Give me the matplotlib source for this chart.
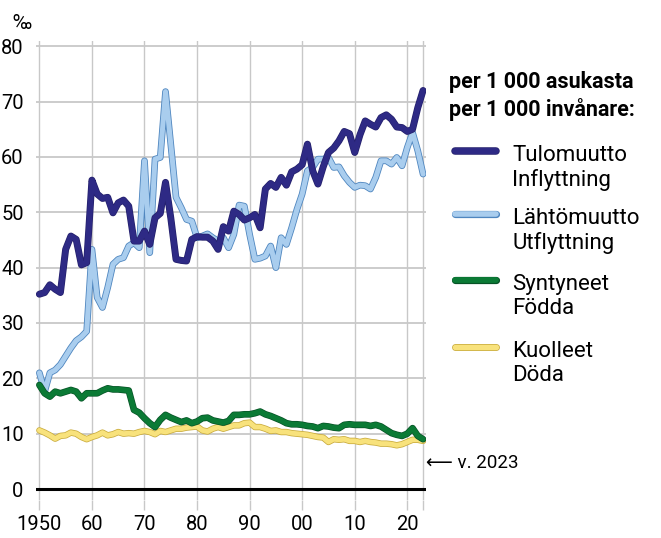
import numpy as np
import matplotlib
matplotlib.use("Agg")
from matplotlib import pyplot as plt
from matplotlib import patheffects as pe
from matplotlib.lines import Line2D

plt.rcParams['font.family'] = ['Roboto', 'DejaVu Sans']

years = list(range(1950, 2024))

# tulomuutto / inflyttning per 1000
tulo = [35.2, 35.5, 36.9, 36.1, 35.5, 43.3, 45.7, 45.1, 40.5, 40.9,
        55.8, 53.3, 52.5, 52.7, 49.9, 51.7, 52.2, 51.1, 44.8, 44.8,
        46.6, 44.2, 49.0, 49.8, 55.4, 49.0, 41.5, 41.3, 41.2, 45.1,
        45.6, 45.5, 45.5, 44.8, 43.3, 47.4, 46.6, 50.2, 49.6, 48.6,
        49.0, 49.6, 47.2, 54.2, 55.2, 54.5, 56.3, 54.9, 57.3, 57.8,
        58.6, 62.3, 57.5, 55.1, 58.2, 60.8, 61.6, 62.9, 64.6, 64.2,
        60.8, 64.0, 66.5, 65.9, 65.4, 67.1, 67.6, 66.8, 65.4, 65.3,
        64.6, 65.0, 68.9, 72.0]

# lähtömuutto / utflyttning
lahto = [21.0, 17.6, 21.0, 21.5, 22.5, 24.0, 25.5, 26.8, 27.5, 28.5,
         43.3, 34.6, 32.8, 36.4, 40.6, 41.5, 41.8, 43.9, 44.5, 43.6,
         59.3, 42.7, 59.6, 59.9, 71.8, 62.3, 52.7, 50.8, 48.7, 48.4,
         45.4, 45.7, 46.1, 45.4, 44.8, 45.4, 43.6, 46.0, 51.3, 51.1,
         46.0, 41.5, 41.7, 42.1, 43.9, 40.0, 45.4, 44.2, 47.2, 50.5,
         53.3, 57.5, 58.1, 59.6, 59.6, 59.9, 58.1, 58.2, 56.6, 55.4,
         54.5, 54.9, 54.8, 54.2, 56.3, 59.3, 59.3, 58.7, 59.9, 58.4,
         61.7, 64.4, 61.1, 56.9]

# syntyneet / födda
synt = [18.8, 17.3, 16.7, 17.6, 17.3, 17.6, 17.9, 17.6, 16.4, 17.3,
        17.3, 17.3, 17.8, 18.2, 18.0, 18.0, 17.9, 17.8, 14.3, 13.8,
        12.8, 11.9, 11.2, 12.5, 13.4, 12.9, 12.5, 12.1, 12.4, 11.9,
        12.2, 12.8, 12.9, 12.4, 12.2, 12.0, 12.3, 13.4, 13.4, 13.5,
        13.5, 13.7, 14.0, 13.5, 13.2, 12.8, 12.4, 11.9, 11.7, 11.7,
        11.6, 11.4, 11.3, 11.0, 11.4, 11.3, 11.1, 11.0, 11.6, 11.7,
        11.6, 11.6, 11.6, 11.4, 11.6, 11.3, 10.7, 10.1, 9.8, 9.6,
        10.0, 11.0, 9.6, 9.0]

# kuolleet / döda
kuol = [10.6, 10.2, 9.7, 9.1, 9.6, 9.7, 10.2, 10.0, 9.4, 9.0,
        9.4, 9.7, 10.2, 9.7, 9.9, 10.3, 10.0, 10.1, 10.0, 10.3,
        10.5, 10.3, 9.9, 10.5, 10.3, 10.6, 10.9, 10.9, 11.1, 11.2,
        11.3, 10.6, 10.4, 10.9, 11.2, 10.9, 11.2, 11.5, 11.5, 11.9,
        12.0, 11.2, 11.2, 10.9, 10.5, 10.6, 10.3, 10.3, 10.1, 10.0,
        9.9, 9.8, 9.6, 9.4, 9.3, 8.5, 9.0, 8.9, 9.0, 8.7,
        8.7, 8.5, 8.7, 8.5, 8.4, 8.2, 8.2, 8.1, 7.9, 8.1,
        8.5, 8.9, 8.9, 8.7]

xticks = [1950, 1960, 1970, 1980, 1990, 2000, 2010, 2020]
xlabels = ['1950', '60', '70', '80', '90', '00', '10', '20']
yticks = [0, 10, 20, 30, 40, 50, 60, 70, 80]

labels = ['Tulomuutto\nInflyttning', 'Lähtömuutto\nUtflyttning',
          'Syntyneet\nFödda', 'Kuolleet\nDöda']

# (fill, edge, inner width, outer width, zorder)
styles = [('#2e2a85', '#24206b', 4.0, 5.0, 6),
          ('#a9cdee', '#4f86bf', 3.6, 4.8, 4),
          ('#0b7a35', '#075226', 3.8, 4.8, 5),
          ('#f8e27c', '#c9ab3c', 3.5, 4.6, 3)]

fig = plt.figure(figsize=(6.61, 5.38), dpi=100)
ax = fig.add_axes([0.0548, 0.0704, 0.590, 0.854])

series = [tulo, lahto, synt, kuol]
for vals, (c, ec, lw, olw, z) in zip(series, styles):
    ln, = ax.plot(years, vals, color=c, lw=lw, zorder=z, solid_joinstyle='round',
                  solid_capstyle='round')
    ln.set_path_effects([pe.Stroke(linewidth=olw, foreground=ec), pe.Normal()])

ax.set_xlim(1949.4, 2023.6)
ax.set_ylim(-2, 81)

for x in xticks + [2023]:
    ax.axvline(x, ymin=0, ymax=1, color='#c8c8c8', lw=1.0, zorder=1)
for y in yticks[1:]:
    ax.axhline(y, color='#c8c8c8', lw=1.3, zorder=1)
ax.axhline(0, color='black', lw=2.2, zorder=7)

for s in ax.spines.values():
    s.set_visible(False)

ax.set_xticks(xticks + [2023])
ax.set_xticklabels(xlabels + [''])
ax.set_yticks(yticks)
ax.tick_params(axis='x', length=7, color='#c8c8c8', width=1.0, labelsize=14.5, pad=4)
ax.tick_params(axis='y', length=0, labelsize=14.5, pad=9)

fig.text(0.034, 0.957, '‰', fontsize=14.5, ha='center', va='center')

ax.annotate('⟵ v. 2023', xy=(2023, 4.7), xytext=(2, 0), textcoords='offset points',
            fontsize=13.5, ha='left', va='center', annotation_clip=False)

# legend, built by hand
fig.text(0.680, 0.848, 'per 1 000 asukasta', fontsize=15.5, fontweight='bold',
         ha='left', va='center')
fig.text(0.680, 0.796, 'per 1 000 invånare:', fontsize=15.5, fontweight='bold',
         ha='left', va='center')

legend_y = [150.7, 214.0, 280.0, 346.7]
for (c, ec, lw, olw, z), lab, py in zip(styles, labels, legend_y):
    yf = 1 - py / 538
    l = Line2D([455 / 661, 496 / 661], [yf, yf], color=c, lw=lw + 0.4,
               solid_capstyle='round', transform=fig.transFigure)
    l.set_path_effects([pe.Stroke(linewidth=olw + 0.4, foreground=ec), pe.Normal()])
    fig.add_artist(l)
    fig.text(512 / 661, yf + 6 / 538, lab, fontsize=16, ha='left', va='top',
             linespacing=1.2)

plt.savefig('out.png', dpi=100)
